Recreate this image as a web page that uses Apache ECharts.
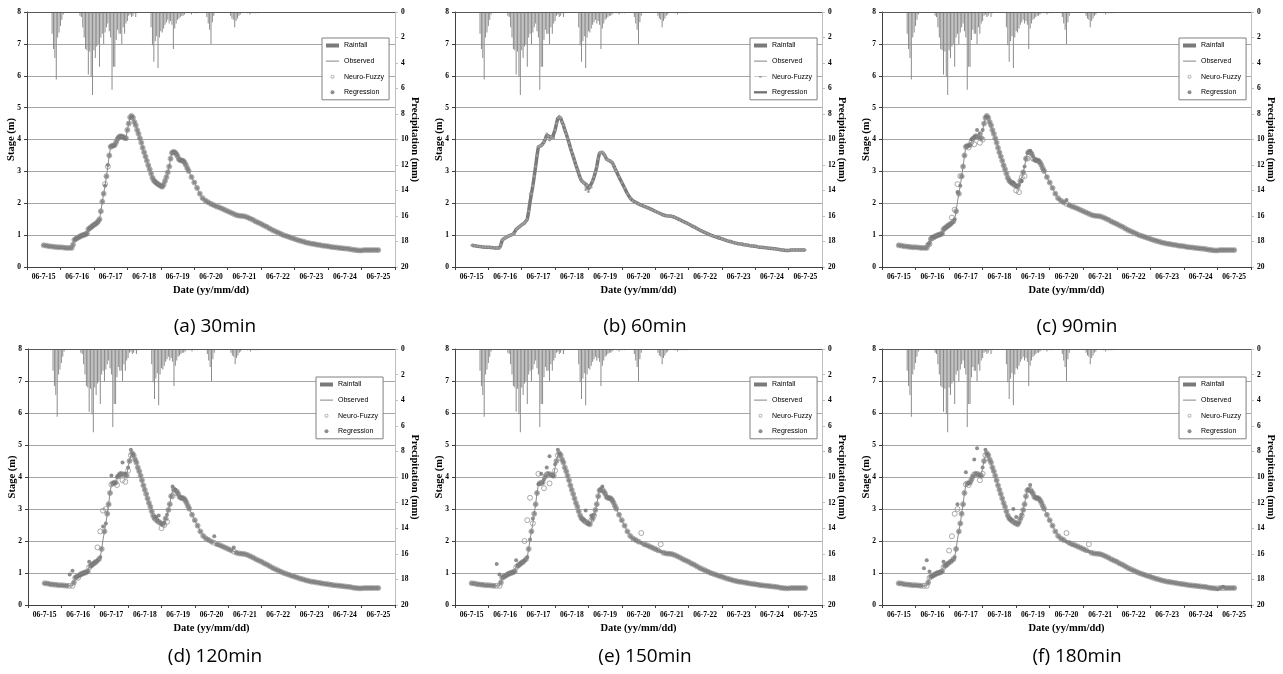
<!DOCTYPE html>
<html><head><meta charset="utf-8">
<script src="https://cdn.jsdelivr.net/npm/echarts@6/dist/echarts.min.js"></script>
<style>html,body{margin:0;padding:0;background:#fff}#c{width:1283px;height:674px}</style>
</head><body><div id="c"></div><script>
// ---------- data ----------
const dateLabels = ['06-7-15','06-7-16','06-7-17','06-7-18','06-7-19','06-7-20','06-7-21','06-7-22','06-7-23','06-7-24','06-7-25'];
const panelCaptions = ['(a) 30min','(b) 60min','(c) 90min','(d) 120min','(e) 150min','(f) 180min'];

// observed stage (m): hours 0..18 every 2 h
const stageEarly = [0.68,0.67,0.65,0.64,0.63,0.62,0.62,0.61,0.60,0.60];
// hours 20..104 every 1 h
const stageStorm = [0.60,0.70,0.85,0.88,0.91,0.93,0.96,0.98,1.00,1.01,
  1.03,1.05,1.18,1.22,1.25,1.29,1.32,1.35,1.38,1.43,
  1.50,1.75,2.05,2.30,2.55,2.85,3.15,3.50,3.77,3.80,
  3.81,3.83,3.92,4.02,4.08,4.10,4.09,4.08,4.05,4.04,
  4.30,4.50,4.68,4.74,4.68,4.55,4.45,4.30,4.18,4.04,
  3.90,3.74,3.60,3.47,3.33,3.19,3.07,2.93,2.80,2.71,
  2.67,2.63,2.60,2.57,2.54,2.52,2.58,2.70,2.82,2.97,
  3.15,3.40,3.58,3.61,3.60,3.55,3.48,3.38,3.35,3.34,
  3.33,3.28,3.20,3.10,3.01];
// hours 106..240 every 2 h
const stageRecession = [2.82,2.65,2.48,2.30,2.16,2.08,2.03,1.98,1.94,1.90,
  1.87,1.83,1.79,1.75,1.71,1.67,1.63,1.61,1.60,1.59,
  1.56,1.52,1.48,1.43,1.39,1.35,1.30,1.26,1.21,1.16,
  1.12,1.08,1.04,1.00,0.97,0.94,0.91,0.88,0.85,0.82,
  0.80,0.77,0.75,0.73,0.72,0.70,0.69,0.67,0.66,0.65,
  0.63,0.62,0.61,0.60,0.59,0.58,0.57,0.56,0.54,0.53,
  0.52,0.52,0.53,0.53,0.53,0.53,0.53,0.53];

// hourly rainfall [hour, mm]
const rainfall = [[6,1.7],[7,2.9],[8,3.6],[9,5.3],[10,2.0],[11,1.6],[12,1.1],[13,0.6],[14,0.2],
  [26,0.3],[27,0.4],[28,1.2],[29,2.0],[30,2.9],[31,3.0],[32,4.9],[33,3.1],[34,5.1],[35,6.5],[36,3.0],
  [37,3.6],[38,2.7],[39,2.5],[40,4.3],[41,2.0],[42,1.7],[43,2.5],[44,1.6],[45,1.2],[46,0.9],[47,1.5],
  [48,2.0],[49,6.1],[50,4.3],[51,4.3],[52,2.2],[53,1.4],[54,1.7],[55,1.7],[56,2.5],[57,1.2],[58,1.7],
  [59,0.9],[60,0.7],[61,0.3],[62,0.2],[63,0.4],[64,0.3],[65,0.1],[66,0.4],[67,0.1],
  [77,1.2],[78,2.6],[79,3.9],[80,2.3],[81,1.9],[82,4.4],[83,2.0],[84,1.5],[85,1.6],[86,1.3],[87,1.0],
  [88,0.8],[89,0.6],[90,0.9],[91,0.7],[92,1.0],[93,2.9],[94,1.3],[95,0.9],[96,0.6],[97,0.5],[98,0.4],
  [99,0.3],[100,0.3],[101,0.2],[102,0.1],[104,0.1],[106,0.2],[108,0.1],[110,0.1],
  [117,0.4],[118,0.9],[119,1.4],[120,2.5],[121,0.8],[122,0.3],
  [134,0.3],[135,0.5],[136,0.6],[137,1.2],[138,0.7],[139,0.5],[140,0.3],[141,0.2],
  [146,0.1],[148,0.2],[150,0.1],[152,0.1],[154,0.1]];

// predicted stage where it departs from observed [hour, m]
const nf30Dev = [[44,2.6],[62,4.7]];
const reg30Dev = [[46,3.2]];
const nf60Dev = [[42,2.3],[54,4.18],[56,3.98],[82,2.42],[84,2.36],[86,2.5]];
const reg60Dev = [[54,4.14],[84,2.45]];
const nf90Dev = [[22,0.72],[38,1.55],[40,1.8],[42,2.6],[44,2.85],[50,3.75],[54,3.85],[58,3.9],[60,4.0],[84,2.4],[86,2.35],[90,2.85],[92,3.4],[96,3.4]];
const reg90Dev = [[22,0.75],[24,0.95],[42,2.35],[52,4.0],[56,4.3],[58,4.2],[82,2.65],[88,2.7],[94,3.65],[120,2.1]];
const nf120Dev = [[24,0.85],[38,1.8],[40,2.3],[42,2.95],[44,3.0],[52,3.75],[56,3.9],[58,3.85],[60,4.2],[84,2.4],[86,2.5],[88,2.6],[92,3.4],[94,3.5]];
const reg120Dev = [[18,0.95],[20,1.07],[32,1.35],[42,2.45],[48,4.05],[52,4.0],[56,4.45],[58,4.1],[62,4.85],[80,2.75],[82,2.8],[92,3.7],[122,2.15],[136,1.8]];
const nf150Dev = [[38,2.0],[40,2.65],[42,3.35],[48,4.1],[52,3.65],[56,3.8],[60,4.2],[84,2.55],[86,2.65],[88,2.8],[122,2.25],[136,1.9]];
const reg150Dev = [[18,1.28],[20,0.95],[32,1.4],[44,2.7],[50,4.1],[54,4.3],[56,4.65],[60,4.4],[62,4.85],[82,2.95],[86,2.8],[94,3.7]];
const nf180Dev = [[36,1.7],[38,2.15],[40,2.85],[42,3.0],[50,3.75],[58,3.9],[60,4.1],[84,2.55],[86,2.6],[88,2.8],[120,2.25],[136,1.9]];
const reg180Dev = [[18,1.15],[20,1.4],[22,1.05],[32,1.35],[42,3.15],[48,4.15],[54,4.55],[56,4.9],[62,4.85],[82,3.0],[84,2.75],[94,3.75],[228,0.5],[232,0.57]];

// ---------- layout ----------
const layout = [
  {left:27, top:12, width:368, height:255, legLeft:322, legTop:38, capX:215, capY:327, nf:nf30Dev, reg:reg30Dev, lines:false},
  {left:455, top:12, width:367, height:255, legLeft:750, legTop:38, capX:645, capY:327, nf:nf60Dev, reg:reg60Dev, lines:true},
  {left:882, top:12, width:369, height:255, legLeft:1179, legTop:38, capX:1077, capY:327, nf:nf90Dev, reg:reg90Dev, lines:false},
  {left:28, top:349, width:367, height:256, legLeft:316, legTop:377, capX:215, capY:657, nf:nf120Dev, reg:reg120Dev, lines:false},
  {left:455, top:349, width:367, height:256, legLeft:750, legTop:377, capX:645, capY:657, nf:nf150Dev, reg:reg150Dev, lines:false},
  {left:882, top:349, width:369, height:256, legLeft:1179, legTop:377, capX:1077, capY:657, nf:nf180Dev, reg:reg180Dev, lines:false}
];

const obs = [];
stageEarly.forEach((v,i)=>obs.push([i*2, v]));
stageStorm.forEach((v,i)=>obs.push([20+i, v]));
stageRecession.forEach((v,i)=>obs.push([106+i*2, v]));
const obsData = obs.map(([h,v])=>[h/24, v]);
const rainData = rainfall.map(([h,v])=>[h/24, v]);
function predicted(dev){ const m = new Map(dev); return obs.map(([h,v])=>[h/24, m.has(h)?m.get(h):v]); }

const serif = 'Liberation Serif, Times New Roman, serif';
const tickFont = {fontFamily:serif, fontWeight:'bold', fontSize:7.5, color:'#000'};
const nameFont = {fontFamily:serif, fontWeight:'bold', fontSize:10.5, color:'#000'};
const ids = 'abcdef';
const lineIcon = 'path://M0 0H28V2H0Z';
const thickIcon = 'path://M0 0H28V5H0Z';
const nfLineIcon = 'path://M0 3H11V2H17V3H28V4H17V5H11V4H0Z';
const ringIcon = 'path://M5 0A5 5 0 1 1 5 10A5 5 0 1 1 5 0ZM5 2.2A2.8 2.8 0 1 0 5 7.8A2.8 2.8 0 1 0 5 2.2Z';

const grid=[], xAxis=[], yAxis=[], series=[], legend=[], graphic=[];
layout.forEach((p,i)=>{
  const k = ids[i];
  grid.push({left:p.left, top:p.top, width:p.width, height:p.height, containLabel:false});
  xAxis.push({type:'category', gridIndex:i, data:dateLabels, boundaryGap:true,
    axisLine:{onZero:false, lineStyle:{color:'#404040',width:1}}, axisTick:{show:true,length:3,lineStyle:{color:'#404040'}},
    axisLabel:Object.assign({interval:0, margin:6}, tickFont), splitLine:{show:false},
    name:'Date (yy/mm/dd)', nameLocation:'middle', nameGap:18, nameMoveOverlap:false, nameTextStyle:nameFont});
  xAxis.push({type:'value', gridIndex:i, min:-0.5, max:10.5, show:false});
  yAxis.push({type:'value', gridIndex:i, min:0, max:8, interval:1, position:'left',
    axisLine:{show:true, onZero:false, lineStyle:{color:'#404040'}}, axisTick:{show:true,length:3,lineStyle:{color:'#404040'}},
    axisLabel:Object.assign({margin:6}, tickFont), splitLine:{show:true, lineStyle:{color:'#a6a6a6', width:1}},
    name:'Stage (m)', nameLocation:'middle', nameGap:10, nameMoveOverlap:false, nameTextStyle:nameFont});
  yAxis.push({type:'value', gridIndex:i, min:0, max:20, interval:2, inverse:true, position:'right',
    axisLine:{show:true, onZero:false, lineStyle:{color:'#bfbfbf'}}, axisTick:{show:true,length:3,lineStyle:{color:'#bfbfbf'}},
    axisLabel:Object.assign({margin:6}, tickFont), splitLine:{show:false},
    name:'Precipitation (mm)', nameLocation:'middle', nameGap:14, nameRotate:-90, nameMoveOverlap:false, nameTextStyle:nameFont});
  const xi = 2*i+1, yl = 2*i, yr = 2*i+1;
  series.push({name:'Rainfall|'+k, type:'bar', xAxisIndex:xi, yAxisIndex:yr, data:rainData, barWidth:0.8,
    itemStyle:{color:'#8c8c8c'}, silent:true,
    markLine:{silent:true, symbol:'none', label:{show:false}, lineStyle:{color:'#5a5a5a', width:1, type:'solid'}, data:[{yAxis:0}]}});
  series.push({name:'Observed|'+k, type:'line', xAxisIndex:xi, yAxisIndex:yl, data:obsData, symbol:'none',
    lineStyle:{color:'#8a8a8a', width:1}, itemStyle:{color:'#8a8a8a'}, silent:true});
  let nfIcon, regIcon;
  if (p.lines) {
    series.push({name:'Neuro-Fuzzy|'+k, type:'line', xAxisIndex:xi, yAxisIndex:yl, data:predicted(p.nf),
      symbol:'circle', symbolSize:2.5, showSymbol:true, showAllSymbol:true,
      lineStyle:{color:'#9c9c9c', width:1}, itemStyle:{color:'#9c9c9c'}, silent:true});
    series.push({name:'Regression|'+k, type:'line', xAxisIndex:xi, yAxisIndex:yl, data:predicted(p.reg),
      symbol:'none', lineStyle:{color:'#7a7a7a', width:3.5}, itemStyle:{color:'#7a7a7a'}, silent:true});
    nfIcon = nfLineIcon; regIcon = thickIcon;
  } else {
    series.push({name:'Neuro-Fuzzy|'+k, type:'scatter', xAxisIndex:xi, yAxisIndex:yl, data:predicted(p.nf),
      symbol:'circle', symbolSize:5, itemStyle:{color:'rgba(255,255,255,0)', borderColor:'#959595', borderWidth:1}, silent:true});
    series.push({name:'Regression|'+k, type:'scatter', xAxisIndex:xi, yAxisIndex:yl, data:predicted(p.reg),
      symbol:'circle', symbolSize:4, itemStyle:{color:'#727272'}, silent:true});
    nfIcon = ringIcon; regIcon = 'circle';
  }
  legend.push({orient:'vertical', left:p.legLeft, top:p.legTop, selectedMode:false,
    data:[{name:'Rainfall|'+k, icon:'rect', itemStyle:{color:'#7a7a7a'}},
          {name:'Observed|'+k, icon:lineIcon, itemStyle:{color:'#7a7a7a'}},
          {name:'Neuro-Fuzzy|'+k, icon:nfIcon, itemStyle:{color:'#9a9a9a', borderWidth:0}},
          {name:'Regression|'+k, icon:regIcon, itemStyle:{color:'#727272'}}],
    formatter:n=>n.split('|')[0], itemWidth:13, itemHeight:4, itemGap:8.6, padding:[4,5,4,4],
    backgroundColor:'#fff', borderColor:'#808080', borderWidth:1,
    textStyle:{fontFamily:'Liberation Sans Narrow, Arial Narrow, Liberation Sans, sans-serif', fontSize:7, color:'#000'}});
  graphic.push({type:'text', x:p.capX, y:p.capY, silent:true,
    style:{text:panelCaptions[i], font:'19px "Open Sans", "Noto Sans", sans-serif', fill:'#000', align:'center', verticalAlign:'middle'}});
});

const chart = echarts.init(document.getElementById('c'), null, {renderer:'canvas'});
chart.setOption({animation:false, backgroundColor:'#fff', grid, xAxis, yAxis, series, legend, graphic});
</script></body></html>
